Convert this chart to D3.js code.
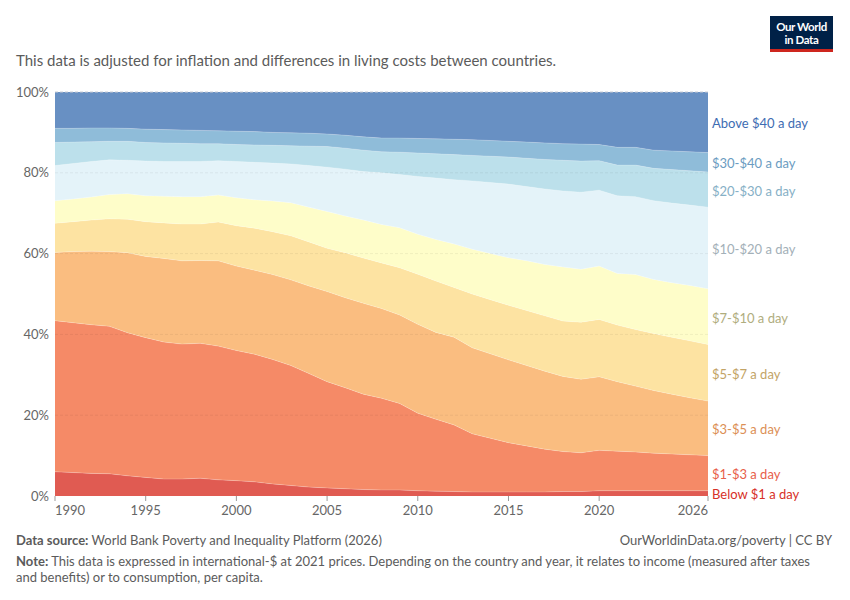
<!DOCTYPE html>
<html>
<head>
<meta charset="utf-8">
<script src="https://cdn.jsdelivr.net/npm/d3@7"></script>
<style>
  body { margin: 0; background: #fff; }
  svg { font-family: Lato, "Noto Sans", sans-serif; }
</style>
</head>
<body>
<svg id="chart" width="850" height="600"></svg>
<script>
// Share of population living below each threshold (%), 1990-2026
const years = [1990, 1991, 1992, 1993, 1994, 1995, 1996, 1997, 1998, 1999,
               2000, 2001, 2002, 2003, 2004, 2005, 2006, 2007, 2008, 2009,
               2010, 2011, 2012, 2013, 2014, 2015, 2016, 2017, 2018, 2019,
               2020, 2021, 2022, 2023, 2024, 2025, 2026];
const below1 = [6.0, 5.8, 5.6, 5.5, 5.0, 4.6, 4.2, 4.2, 4.4, 4.0,
                3.8, 3.5, 3.0, 2.6, 2.2, 2.0, 1.8, 1.6, 1.5, 1.5,
                1.3, 1.2, 1.1, 1.0, 1.0, 1.0, 1.0, 1.0, 1.1, 1.1,
                1.3, 1.3, 1.3, 1.3, 1.3, 1.3, 1.3];
const below3 = [43.4, 42.9, 42.4, 42.0, 40.4, 39.2, 38.1, 37.6, 37.8, 37.1,
                36.0, 35.1, 33.8, 32.3, 30.3, 28.3, 26.8, 25.2, 24.2, 22.9,
                20.5, 19.0, 17.6, 15.4, 14.3, 13.2, 12.4, 11.6, 11.0, 10.7,
                11.3, 11.1, 10.9, 10.6, 10.4, 10.2, 10.0];
const below5 = [60.3, 60.5, 60.6, 60.5, 60.2, 59.3, 58.8, 58.2, 58.3, 58.2,
                56.9, 55.9, 54.8, 53.5, 52.0, 50.6, 49.1, 47.7, 46.4, 44.8,
                42.5, 40.5, 39.3, 36.7, 35.2, 33.7, 32.3, 30.9, 29.6, 28.9,
                29.5, 28.3, 27.2, 26.1, 25.2, 24.3, 23.5];
const below7 = [67.5, 67.9, 68.3, 68.6, 68.5, 67.9, 67.6, 67.3, 67.3, 67.8,
                66.9, 66.3, 65.4, 64.4, 62.9, 61.3, 60.2, 58.9, 57.7, 56.5,
                54.9, 53.2, 51.6, 50.0, 48.6, 47.2, 45.9, 44.6, 43.3, 43.0,
                43.7, 42.3, 41.2, 40.2, 39.3, 38.4, 37.5];
const below10 = [73.1, 73.5, 74.0, 74.6, 74.8, 74.3, 74.2, 74.1, 74.1, 74.5,
                 73.8, 73.3, 73.0, 72.6, 71.5, 70.4, 69.3, 68.3, 67.2, 66.4,
                 64.8, 63.5, 62.4, 61.1, 60.0, 59.0, 58.2, 57.3, 56.7, 56.1,
                 56.9, 55.1, 54.8, 53.6, 52.8, 52.1, 51.3];
const below20 = [81.8, 82.3, 82.8, 83.2, 83.1, 82.9, 82.8, 82.8, 82.8, 83.0,
                 82.8, 82.6, 82.4, 82.2, 81.8, 81.4, 80.9, 80.3, 80.0, 79.6,
                 79.1, 78.7, 78.3, 78.0, 77.6, 77.2, 76.6, 76.0, 75.5, 75.2,
                 75.7, 74.3, 74.1, 73.1, 72.5, 72.0, 71.5];
const below30 = [87.5, 87.6, 87.7, 87.8, 87.8, 87.5, 87.4, 87.3, 87.2, 87.2,
                 87.0, 86.9, 86.8, 86.7, 86.6, 86.5, 86.1, 85.6, 85.2, 85.1,
                 84.9, 84.7, 84.5, 84.3, 84.1, 83.9, 83.6, 83.3, 83.1, 82.9,
                 83.0, 81.9, 81.9, 81.1, 80.8, 80.5, 80.2];
const below40 = [91.0, 91.0, 91.1, 91.1, 91.0, 90.8, 90.7, 90.6, 90.5, 90.4,
                 90.3, 90.2, 90.0, 89.9, 89.8, 89.6, 89.3, 88.9, 88.6, 88.6,
                 88.5, 88.4, 88.3, 88.2, 88.0, 87.8, 87.6, 87.4, 87.2, 87.1,
                 87.0, 86.3, 86.3, 85.6, 85.4, 85.2, 85.0];

const bandNames = ['Below $1 a day', '$1-$3 a day', '$3-$5 a day', '$5-$7 a day', '$7-$10 a day',
                   '$10-$20 a day', '$20-$30 a day', '$30-$40 a day', 'Above $40 a day'];
const bandColors = ['#e05b52', '#f58a67', '#fabd80', '#fde3a2', '#fefdc9',
                    '#e4f3f9', '#bce0eb', '#8fbcd9', '#6890c3'];
const labelColors = ['#d73027', '#e8604a', '#dc8f55', '#c3a466', '#b0ad7e',
                     '#a3b0b8', '#86b0c6', '#6b9cc1', '#3e6cb2'];
const xTicks = [1990, 1995, 2000, 2005, 2010, 2015, 2020, 2026];
const yTicks = [0, 20, 40, 60, 80, 100];

const svg = d3.select('#chart');
const margin = { left: 55, right: 142, top: 92, bottom: 104 };
const W = 850, H = 600;

const x = d3.scaleLinear().domain([1990, 2026]).range([margin.left, W - margin.right]);
const y = d3.scaleLinear().domain([0, 100]).range([H - margin.bottom, margin.top]);

// turn cumulative thresholds into band shares
const thresholds = [below1, below3, below5, below7, below10, below20, below30, below40];
const rows = years.map((yr, i) => {
    const row = { year: yr };
    let prev = 0;
    thresholds.forEach((t, k) => { row[bandNames[k]] = t[i] - prev; prev = t[i]; });
    row[bandNames[8]] = 100 - prev;
    return row;
});
const series = d3.stack().keys(bandNames)(rows);

// title line
svg.append('text')
    .attr('x', 16).attr('y', 66)
    .attr('font-size', 15).attr('fill', '#5b5b5b')
    .text('This data is adjusted for inflation and differences in living costs between countries.');

// logo
const logo = svg.append('g');
logo.append('rect').attr('x', 770).attr('y', 16).attr('width', 63).attr('height', 36).attr('fill', '#002147');
logo.append('rect').attr('x', 770).attr('y', 49).attr('width', 63).attr('height', 3).attr('fill', '#ce261e');
logo.append('text').attr('x', 801.5).attr('y', 31).attr('text-anchor', 'middle')
    .attr('font-size', 11.5).attr('font-weight', 700).attr('fill', '#fff').attr('letter-spacing', -0.4).text('Our World');
logo.append('text').attr('x', 801.5).attr('y', 44).attr('text-anchor', 'middle')
    .attr('font-size', 11.5).attr('font-weight', 700).attr('fill', '#fff').attr('letter-spacing', -0.4).text('in Data');

// areas
const area = d3.area()
    .x(d => x(d.data.year))
    .y0(d => y(d[0]))
    .y1(d => y(d[1]));

svg.append('g').selectAll('path')
    .data(series)
    .join('path')
    .attr('d', area)
    .attr('fill', (d, i) => bandColors[i]);

// thin separators between bands
const line = d3.line().x(d => x(d.data.year)).y(d => y(d[1]));
svg.append('g').selectAll('path')
    .data(series.slice(0, 8))
    .join('path')
    .attr('d', line)
    .attr('fill', 'none')
    .attr('stroke', '#fff')
    .attr('stroke-opacity', 0.35)
    .attr('stroke-width', 0.6);

// gridlines
svg.append('g').selectAll('line')
    .data(yTicks.filter(v => v > 0))
    .join('line')
    .attr('x1', margin.left).attr('x2', W - margin.right)
    .attr('y1', d => y(d)).attr('y2', d => y(d))
    .attr('stroke', d => d === 100 ? '#c9ccd4' : 'rgba(0,0,0,0.06)')
    .attr('stroke-dasharray', '3,2');

// y axis labels
svg.append('g').selectAll('text')
    .data(yTicks)
    .join('text')
    .attr('x', margin.left - 6)
    .attr('y', d => y(d))
    .attr('dy', '0.35em')
    .attr('text-anchor', 'end')
    .attr('font-size', 13).attr('fill', '#666')
    .text(d => d + '%');

// x axis ticks and labels
const xAxis = svg.append('g');
xAxis.selectAll('line')
    .data(xTicks)
    .join('line')
    .attr('x1', d => x(d)).attr('x2', d => x(d))
    .attr('y1', y(0)).attr('y2', y(0) + 5)
    .attr('stroke', '#999');
xAxis.selectAll('text')
    .data(xTicks)
    .join('text')
    .attr('x', d => x(d))
    .attr('y', y(0) + 19)
    .attr('text-anchor', (d, i) => i === 0 ? 'start' : (i === xTicks.length - 1 ? 'end' : 'middle'))
    .attr('font-size', 13).attr('fill', '#666')
    .text(d => d);

// end labels at band centres, nudged apart
const last = series.map(s => s[s.length - 1]);
const labelY = last.map(d => y((d[0] + d[1]) / 2));
for (let i = 1; i < labelY.length; i++) {
    if (labelY[i - 1] - labelY[i] < 16) labelY[i] = labelY[i - 1] - 16;
}
svg.append('g').selectAll('text')
    .data(bandNames)
    .join('text')
    .attr('x', W - margin.right + 4)
    .attr('y', (d, i) => labelY[i] + 1.5)
    .attr('dy', '0.35em')
    .attr('font-size', 13)
    .attr('fill', (d, i) => labelColors[i])
    .text(d => d);

// footer
const foot = svg.append('g').attr('font-size', 13).attr('fill', '#5b5b5b');
const src = foot.append('text').attr('x', 16).attr('y', 545);
src.append('tspan').attr('font-weight', 700).text('Data source:');
src.append('tspan').text(' World Bank Poverty and Inequality Platform (2026)');
foot.append('text').attr('x', 832).attr('y', 545).attr('text-anchor', 'end')
    .text('OurWorldinData.org/poverty | CC BY');
const note = foot.append('text').attr('x', 16).attr('y', 566);
note.append('tspan').attr('font-weight', 700).text('Note:');
note.append('tspan').text(' This data is expressed in international-$ at 2021 prices. Depending on the country and year, it relates to income (measured after taxes');
foot.append('text').attr('x', 16).attr('y', 582)
    .text('and benefits) or to consumption, per capita.');
</script>
</body>
</html>
